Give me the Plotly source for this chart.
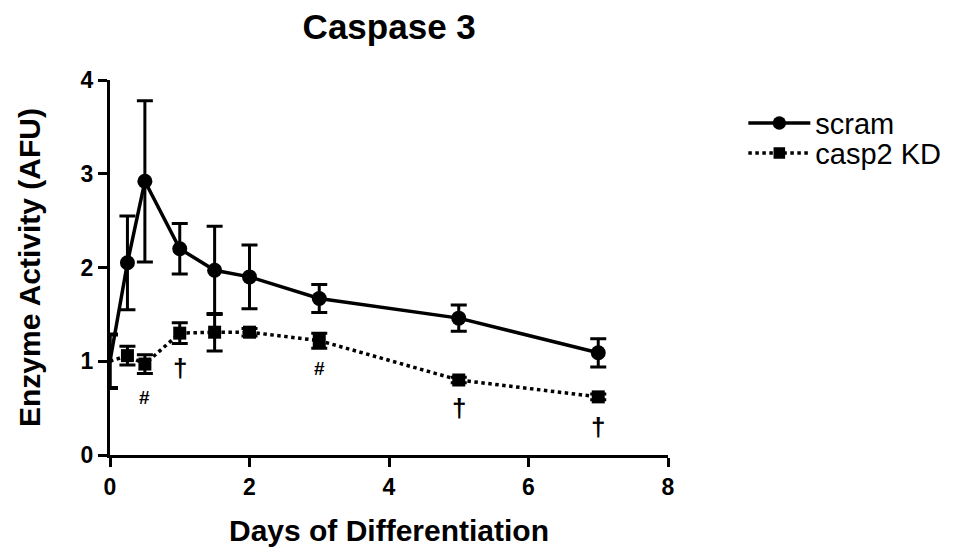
import plotly.graph_objects as go

days = [0, 0.25, 0.5, 1, 1.5, 2, 3, 5, 7]
scram = [1.0, 2.05, 2.92, 2.2, 1.97, 1.9, 1.67, 1.46, 1.09]
scram_err = [0.29, 0.5, 0.86, 0.27, 0.47, 0.34, 0.15, 0.14, 0.15]
kd = [1.0, 1.06, 0.97, 1.3, 1.31, 1.31, 1.22, 0.8, 0.62]
kd_err = [0.28, 0.1, 0.1, 0.11, 0.2, 0.04, 0.08, 0.03, 0.03]

sig_x = [0.5, 1, 3, 5, 7]
sig_y = [0.61, 0.93, 0.92, 0.5, 0.3]
sig_txt = ["#", "†", "#", "†", "†"]

FONT = "Liberation Sans, Arial, sans-serif"

fig = go.Figure()
fig.add_trace(go.Scatter(
    x=days, y=scram, name="scram", mode="lines+markers",
    line=dict(color="black", width=3.5),
    marker=dict(symbol="circle", size=[0] + [15] * (len(days) - 1), color="black",
                opacity=1, line=dict(width=0, color="black")),
    error_y=dict(type="data", array=scram_err, color="black", thickness=3, width=8),
    cliponaxis=False, legend="legend", showlegend=True,
))
fig.add_trace(go.Scatter(
    x=days, y=kd, name="casp2 KD", mode="lines+markers",
    line=dict(color="black", width=3.5, dash="dot"),
    marker=dict(symbol="square", size=[0] + [13] * (len(days) - 1), color="black",
                opacity=1, line=dict(width=0, color="black")),
    error_y=dict(type="data", array=kd_err, color="black", thickness=3, width=8),
    cliponaxis=False, legend="legend2", showlegend=True,
))
for xx, yy, tt in zip(sig_x, sig_y, sig_txt):
    fig.add_annotation(x=xx, y=yy, text="<b>" + tt + "</b>", showarrow=False,
                       font=dict(family=FONT, size=26 if tt == "†" else 19, color="black"))

leg_common = dict(xanchor="left", yanchor="middle",
                  font=dict(family=FONT, size=29, color="black"),
                  itemwidth=62, bgcolor="rgba(0,0,0,0)")

fig.update_layout(
    width=953, height=552, showlegend=True,
    paper_bgcolor="white", plot_bgcolor="white",
    margin=dict(l=102, r=293, t=72, b=105),
    title=dict(text="<b>Caspase 3</b>", x=0.400, xanchor="center", y=0.966, yanchor="middle",
               font=dict(family=FONT, size=35, color="black")),
    font=dict(family=FONT, color="black"),
    legend=dict(x=1.135, y=0.885, **leg_common),
    legend2=dict(x=1.135, y=0.805, **leg_common),
    xaxis=dict(range=[0, 8], tickvals=[0, 2, 4, 6, 8], ticktext=["<b>0</b>", "<b>2</b>", "<b>4</b>", "<b>6</b>", "<b>8</b>"],
               showline=True, linecolor="black", linewidth=3, showgrid=False, zeroline=False,
               ticks="outside", ticklen=9, tickwidth=3, tickcolor="black",
               tickfont=dict(size=23, family=FONT),
               title=dict(text="<b>Days of Differentiation</b>", font=dict(size=30, family=FONT), standoff=22)),
    yaxis=dict(range=[0, 4], tickvals=[0, 1, 2, 3, 4], ticktext=["<b>0</b>", "<b>1</b>", "<b>2</b>", "<b>3</b>", "<b>4</b>"],
               showline=True, linecolor="black", linewidth=3, showgrid=False, zeroline=False,
               ticks="outside", ticklen=9, tickwidth=3, tickcolor="black",
               tickfont=dict(size=23, family=FONT),
               title=dict(text="<b>Enzyme Activity (AFU)</b>", font=dict(size=30, family=FONT), standoff=32)),
)
fig.write_html("out.html")
